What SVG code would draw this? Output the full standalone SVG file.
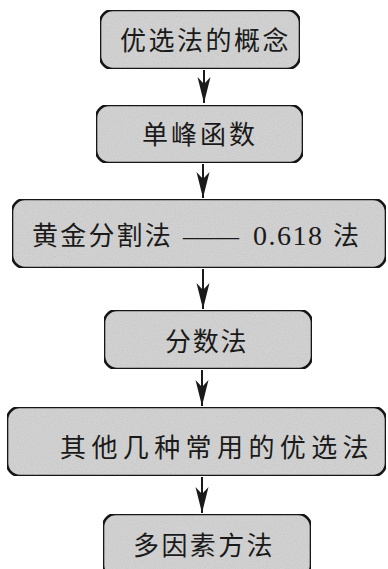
<svg xmlns="http://www.w3.org/2000/svg" width="388" height="569" viewBox="0 0 388 569">
  <defs>
    <marker id="ah" markerUnits="userSpaceOnUse" markerWidth="30" markerHeight="16" viewBox="-28 -8 30 16" refX="0" refY="0" orient="auto">
      <path d="M0,0 L-26,-6.5 L-19,0 L-26,6.5 Z" fill="#1a1a1a"/>
    </marker>
    <filter id="grain" x="0" y="0" width="100%" height="100%">
      <feTurbulence type="fractalNoise" baseFrequency="0.9" numOctaves="2" seed="3" result="n"/>
      <feColorMatrix in="n" type="matrix" values="0 0 0 0 0  0 0 0 0 0  0 0 0 0 0  0 0 0 0.18 0" result="dots"/>
      <feComposite in="dots" in2="SourceGraphic" operator="in" result="d2"/>
      <feMerge><feMergeNode in="SourceGraphic"/><feMergeNode in="d2"/></feMerge>
    </filter>
  </defs>
  <style>
    .box { fill: #d8d8d8; stroke: #1a1a1a; stroke-width: 2.6; }
    .lbl { font-family: "Noto Sans CJK SC", "Liberation Serif", serif; font-size: 26px; font-weight: 400; fill: #1a1a1a; }
    .num { font-family: "Liberation Serif", serif; font-size: 28px; font-weight: 400; fill: #1a1a1a; }
    .conn { stroke: #1a1a1a; stroke-width: 2; fill: none; }
  </style>
  <rect width="388" height="569" fill="#ffffff"/>

  <g id="connectors">
    <line class="conn" x1="204" y1="70" x2="204" y2="103" marker-end="url(#ah)"/>
    <line class="conn" x1="203" y1="164" x2="203" y2="198" marker-end="url(#ah)"/>
    <line class="conn" x1="203" y1="269" x2="203" y2="309" marker-end="url(#ah)"/>
    <line class="conn" x1="202" y1="370" x2="202" y2="406" marker-end="url(#ah)"/>
    <line class="conn" x1="202" y1="477" x2="202" y2="513" marker-end="url(#ah)"/>
  </g>

  <g id="node1">
    <rect class="box" x="100" y="10" width="200" height="59" rx="13" filter="url(#grain)"/>
    <text class="lbl" x="120" y="50" letter-spacing="2.5">优选法的概念</text>
  </g>
  <g id="node2">
    <rect class="box" x="96" y="105" width="207" height="58" rx="13" filter="url(#grain)"/>
    <text class="lbl" x="142" y="144" letter-spacing="3">单峰函数</text>
  </g>
  <g id="node3">
    <rect class="box" x="12" y="199" width="374" height="69" rx="13" filter="url(#grain)"/>
    <text class="lbl" x="32" y="245" letter-spacing="2.2">黄金分割法<tspan class="num" x="183" letter-spacing="0">——</tspan><tspan class="num" x="253" letter-spacing="1.5">0.618</tspan><tspan x="333">法</tspan></text>
  </g>
  <g id="node4">
    <rect class="box" x="104" y="310" width="208" height="59" rx="13" filter="url(#grain)"/>
    <text class="lbl" x="165" y="351" letter-spacing="1.8">分数法</text>
  </g>
  <g id="node5">
    <rect class="box" x="7" y="407" width="379" height="69" rx="13" filter="url(#grain)"/>
    <text class="lbl" x="60" y="457" font-size="27" letter-spacing="5.4">其他几种常用的优选法</text>
  </g>
  <g id="node6">
    <rect class="box" x="103" y="514" width="208" height="64" rx="13" filter="url(#grain)"/>
    <text class="lbl" x="133" y="555" letter-spacing="2.4">多因素方法</text>
  </g>
</svg>
